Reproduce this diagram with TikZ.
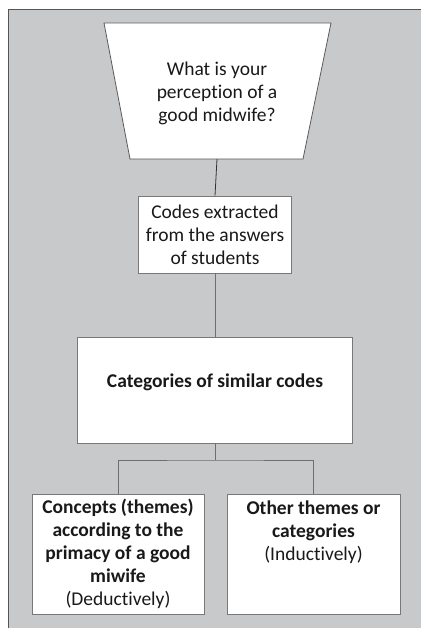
\documentclass[tikz,border=0pt]{standalone}
\usepackage{fontspec}
\setmainfont[Ligatures=NoCommon]{Carlito}
\definecolor{panel}{RGB}{200,201,203}
\definecolor{panelline}{RGB}{85,85,85}
\definecolor{boxline}{RGB}{120,120,120}
\definecolor{trapline}{RGB}{90,90,90}
\definecolor{linkc}{RGB}{110,110,110}
\definecolor{txt}{RGB}{25,25,25}
\begin{document}
\begin{tikzpicture}[x=1pt,y=-1pt,
  txtstyle/.style={align=center, font=\fontsize{19.5}{23}\selectfont, text=txt, inner sep=0pt},
  box/.style={txtstyle, draw=boxline, fill=white, line width=0.8pt},
  link/.style={draw=linkc, line width=0.8pt}]
\useasboundingbox (0,0) rectangle (421,628);
\fill[panel] (8,10) rectangle (421,628);
\draw[panelline, line width=1pt] (8,628) -- (8,10) -- (421,10);
\draw[trapline, fill=white, line width=0.8pt] (104,23) -- (331,23) -- (303,159) -- (130,159) -- cycle;
\node[txtstyle] (q) at (217,93) {What is your\\perception of a\\good midwife?};
\coordinate (qb) at (217,159);
\node[box, minimum width=153pt, minimum height=77pt] (codes) at (215,234.5) {Codes extracted\\from the answers\\of students};
\node[box, minimum width=275pt, minimum height=106pt, text depth=18pt] (cat) at (215,390) {\textbf{Categories of similar codes}};
\node[box, minimum width=172pt, minimum height=120pt] (ded) at (118,554) {\textbf{Concepts (themes)}\\\textbf{according to the}\\\textbf{primacy of a good}\\\textbf{miwife}\\(Deductively)};
\node[box, minimum width=173pt, minimum height=120pt] (ind) at (313.5,554) {\textbf{Other themes or}\\\textbf{categories}\\(Inductively)\\~\\~};
\coordinate (sp) at (215,460);
\draw[link, draw=black!80] (qb) -- (codes.north);
\draw[link] (codes.south) -- (cat.north);
\draw[link] (cat.south) -- (sp);
\draw[link] (ded.north) |- (sp) -| (ind.north);
\end{tikzpicture}
\end{document}
